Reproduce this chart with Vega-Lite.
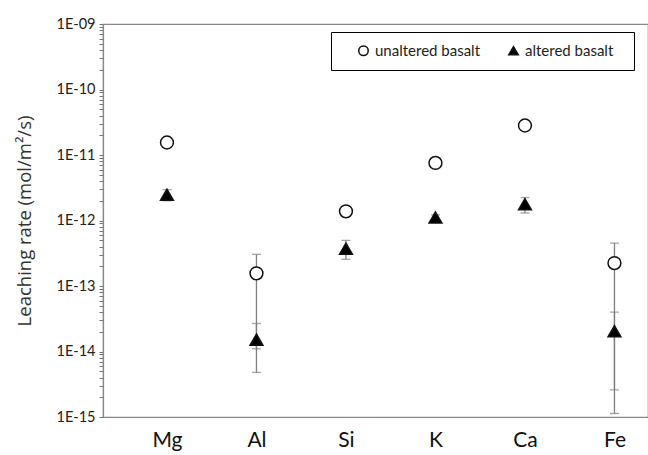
{
  "$schema": "https://vega.github.io/schema/vega-lite/v6.json",
  "width": 545,
  "height": 393,
  "autosize": "none",
  "padding": {"left": 103, "top": 24, "right": 0, "bottom": 38},
  "config": {
    "view": {"stroke": "#888", "strokeWidth": 1.2},
    "font": "Lato",
    "axisX": {
      "labelAngle": 0, "labelFontSize": 21, "labelColor": "#111",
      "ticks": false, "domain": false, "labelPadding": 12, "grid": false
    },
    "axisY": {
      "titleFont": "Open Sans", "titleFontSize": 18.5, "titleFontWeight": "normal", "titleColor": "#333", "titlePadding": 22,
      "labelOverlap": false, "labelFontSize": 14.5, "labelColor": "#222", "labelPadding": 4,
      "ticks": true, "tickSize": 4, "tickColor": "#777", "tickWidth": 1,
      "domain": true, "domainColor": "#888", "domainWidth": 1.2,
      "grid": false
    }
  },
  "data": {"values": [
    {"element": "Mg", "series": "unaltered basalt", "rate": 1.55e-11, "lo": 1.55e-11, "hi": 1.55e-11},
    {"element": "Mg", "series": "altered basalt", "rate": 2.47e-12, "lo": 2.0e-12, "hi": 2.96e-12},
    {"element": "Al", "series": "unaltered basalt", "rate": 1.56e-13, "lo": 1.1e-14, "hi": 3.04e-13},
    {"element": "Al", "series": "altered basalt", "rate": 1.52e-14, "lo": 4.8e-15, "hi": 2.68e-14},
    {"element": "Si", "series": "unaltered basalt", "rate": 1.38e-12, "lo": 1.38e-12, "hi": 1.38e-12},
    {"element": "Si", "series": "altered basalt", "rate": 3.7e-13, "lo": 2.55e-13, "hi": 4.97e-13},
    {"element": "K", "series": "unaltered basalt", "rate": 7.57e-12, "lo": 7.57e-12, "hi": 7.57e-12},
    {"element": "K", "series": "altered basalt", "rate": 1.11e-12, "lo": 1.0e-12, "hi": 1.22e-12},
    {"element": "Ca", "series": "unaltered basalt", "rate": 2.82e-11, "lo": 2.82e-11, "hi": 2.82e-11},
    {"element": "Ca", "series": "altered basalt", "rate": 1.77e-12, "lo": 1.3e-12, "hi": 2.24e-12},
    {"element": "Fe", "series": "unaltered basalt", "rate": 2.24e-13, "lo": 1.13e-15, "hi": 4.53e-13},
    {"element": "Fe", "series": "altered basalt", "rate": 2.04e-14, "lo": 2.6e-15, "hi": 4.0e-14}
  ]},
  "encoding": {
    "x": {
      "field": "element", "type": "nominal",
      "sort": ["Mg", "Al", "Si", "K", "Ca", "Fe"],
      "scale": {"type": "point", "padding": 0.5447, "align": 0.656},
      "axis": {"title": null}
    }
  },
  "layer": [
    {
      "mark": {"type": "rule", "color": "#7f7f7f", "strokeWidth": 1.3},
      "encoding": {
        "y": {
          "field": "lo", "type": "quantitative",
          "scale": {"type": "log", "domain": [1e-15, 1e-9]},
          "axis": {
            "title": "Leaching rate (mol/m²/s)",
            "values": [1e-15, 2e-15, 3e-15, 4e-15, 5e-15, 6e-15, 7e-15, 8e-15, 9e-15,
                       1e-14, 2e-14, 3e-14, 4e-14, 5e-14, 6e-14, 7e-14, 8e-14, 9e-14,
                       1e-13, 2e-13, 3e-13, 4e-13, 5e-13, 6e-13, 7e-13, 8e-13, 9e-13,
                       1e-12, 2e-12, 3e-12, 4e-12, 5e-12, 6e-12, 7e-12, 8e-12, 9e-12,
                       1e-11, 2e-11, 3e-11, 4e-11, 5e-11, 6e-11, 7e-11, 8e-11, 9e-11,
                       1e-10, 2e-10, 3e-10, 4e-10, 5e-10, 6e-10, 7e-10, 8e-10, 9e-10, 1e-9],
            "labelExpr": "abs(log(datum.value)/LN10 - round(log(datum.value)/LN10)) < 0.001 ? ('1E-' + ((-round(log(datum.value)/LN10)) < 10 ? '0' : '') + (-round(log(datum.value)/LN10))) : ''"
          }
        },
        "y2": {"field": "hi"}
      }
    },
    {
      "mark": {"type": "tick", "orient": "horizontal", "color": "#7f7f7f", "size": 9, "thickness": 1.3},
      "encoding": {
        "y": {"field": "lo", "type": "quantitative"}
      }
    },
    {
      "mark": {"type": "tick", "orient": "horizontal", "color": "#7f7f7f", "size": 9, "thickness": 1.3},
      "encoding": {
        "y": {"field": "hi", "type": "quantitative"}
      }
    },
    {
      "mark": {"type": "point", "stroke": "#111", "strokeWidth": 1.5, "opacity": 1, "size": 165},
      "encoding": {
        "y": {"field": "rate", "type": "quantitative"},
        "shape": {
          "field": "series", "type": "nominal",
          "scale": {"domain": ["unaltered basalt", "altered basalt"], "range": ["circle", "triangle-up"]},
          "legend": {"title": " ", "titleOrient": "right", "titlePadding": 10, "orient": "none", "legendX": 228, "legendY": 8, "direction": "horizontal",
                     "strokeColor": "#000", "padding": 11, "labelFontSize": 15, "labelColor": "#222",
                     "symbolSize": 90, "columnPadding": 11, "symbolStrokeWidth": 1.5, "symbolOffset": 14}
        },
        "fill": {
          "field": "series", "type": "nominal",
          "scale": {"domain": ["unaltered basalt", "altered basalt"], "range": ["white", "black"]},
          "legend": {"title": " ", "titleOrient": "right", "titlePadding": 10, "orient": "none", "legendX": 228, "legendY": 8, "direction": "horizontal",
                     "strokeColor": "#000", "padding": 11, "labelFontSize": 15, "labelColor": "#222",
                     "symbolSize": 90, "columnPadding": 11, "symbolStrokeWidth": 1.5, "symbolOffset": 14}
        }
      }
    }
  ]
}
